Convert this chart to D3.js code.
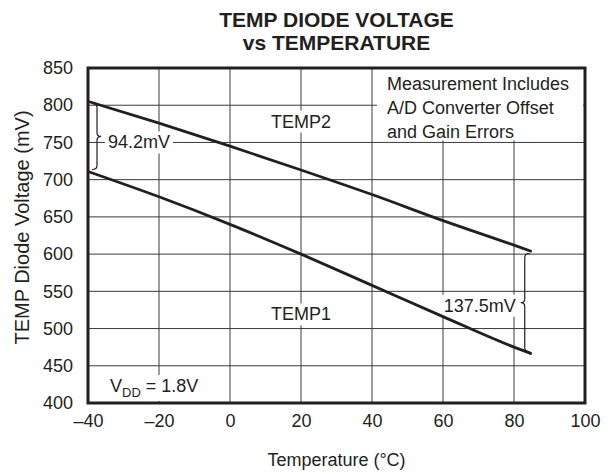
<!DOCTYPE html>
<html>
<head>
<meta charset="utf-8">
<script src="https://cdn.jsdelivr.net/npm/d3@7"></script>
<style>
  body { margin: 0; background: #fff; }
  text { font-family: "Liberation Sans", Arial, Helvetica, sans-serif; fill: #231f20; }
</style>
</head>
<body>
<div class="chart"></div>
<script>
// data
const temps = [-40, -20, 0, 20, 40, 60, 80, 85];
const temp1 = [711, 677, 640, 600, 558, 516, 475, 466];
const temp2 = [805.2, 776, 745, 713, 680, 645, 612, 603.5];
const xTicks = [-40, -20, 0, 20, 40, 60, 80, 100];
const yTicks = [400, 450, 500, 550, 600, 650, 700, 750, 800, 850];
const noteLines = ['Measurement Includes', 'A/D Converter Offset', 'and Gain Errors'];

const width = 613, height = 473;
const margin = {top: 68, right: 28, bottom: 70, left: 88};
const w = width - margin.left - margin.right;
const h = height - margin.top - margin.bottom;
const ink = '#231f20';

const svg = d3.select('.chart').append('svg')
  .attr('width', width).attr('height', height);

const x = d3.scaleLinear().domain([-40, 100]).range([0, w]);
const y = d3.scaleLinear().domain([400, 850]).range([h, 0]);

const g = svg.append('g').attr('transform', 'translate(' + margin.left + ',' + margin.top + ')');

// grid
g.append('g').selectAll('line').data(xTicks.slice(1, -1)).enter().append('line')
  .attr('x1', d => x(d)).attr('x2', d => x(d)).attr('y1', 0).attr('y2', h)
  .attr('stroke', '#3a3a3a').attr('stroke-width', 1);
g.append('g').selectAll('line').data(yTicks.slice(1, -1)).enter().append('line')
  .attr('y1', d => y(d)).attr('y2', d => y(d)).attr('x1', 0).attr('x2', w)
  .attr('stroke', '#3a3a3a').attr('stroke-width', 1);

// axes (labels only)
const fmt = d => d < 0 ? '\u2013' + Math.abs(d) : String(d);
const xAxis = g.append('g').attr('transform', 'translate(0,' + h + ')')
  .call(d3.axisBottom(x).tickValues(xTicks).tickSize(0).tickPadding(11).tickFormat(fmt));
const yAxis = g.append('g')
  .call(d3.axisLeft(y).tickValues(yTicks).tickSize(0).tickPadding(15));
[xAxis, yAxis].forEach(a => {
  a.select('.domain').remove();
  a.selectAll('text').attr('font-size', 18).attr('fill', ink)
    .style('font-family', '"Liberation Sans", Arial, sans-serif');
});

// helper: white box behind a text
function label(sel, pad) {
  const b = sel.node().getBBox();
  sel.node().parentNode.insertBefore(
    g.append('rect').attr('x', b.x - pad).attr('y', b.y - 1).attr('width', b.width + 2 * pad)
      .attr('height', b.height + 2).attr('fill', '#fff').node(), sel.node());
}

// notes box
const notes = g.append('g');
notes.append('rect').attr('x', x(60) - 66).attr('y', 0).attr('width', x(100) - x(60) + 64)
  .attr('height', y(750) - 2).attr('fill', '#fff');
notes.selectAll('text').data(noteLines).enter().append('text')
  .attr('x', x(60) - 56).attr('y', (d, i) => 22 + i * 24)
  .attr('font-size', 18).text(d => d);

const n = temps.length - 1;

// annotations
const a1 = g.append('text').attr('x', x(-40) + 20).attr('y', y(750) + 6)
  .attr('font-size', 18).text('94.2mV');
label(a1, 3);
const a2 = g.append('text').attr('x', x(85) - 16).attr('y', (y(temp2[n]) + y(temp1[n])) / 2 + 9)
  .attr('text-anchor', 'end').attr('font-size', 18).text('137.5mV');
label(a2, 3);
const t2 = g.append('text').attr('x', x(20)).attr('y', y(778) + 6)
  .attr('text-anchor', 'middle').attr('font-size', 18).text('TEMP2');
label(t2, 4);
const t1 = g.append('text').attr('x', x(20)).attr('y', y(519) + 6)
  .attr('text-anchor', 'middle').attr('font-size', 18).text('TEMP1');
label(t1, 4);
const vdd = g.append('text').attr('x', x(-40) + 22).attr('y', h - 11).attr('font-size', 18);
vdd.append('tspan').text('V');
vdd.append('tspan').attr('font-size', 13).attr('dy', 5).text('DD');
vdd.append('tspan').attr('dy', -5).text(' = 1.8V');
label(vdd, 4);

// curves (on top of label boxes)
const line = d3.line().x(d => x(d[0])).y(d => y(d[1])).curve(d3.curveMonotoneX);
[temp1, temp2].forEach(s => {
  g.append('path').datum(temps.map((t, i) => [t, s[i]]))
    .attr('d', line).attr('fill', 'none').attr('stroke', ink).attr('stroke-width', 2.8);
});

// braces
function brace(x0, y1, y2, dir) {
  const xs = x0 + dir * 5, xt = x0 + dir * 9, ym = (y1 + y2) / 2, r = 4;
  return 'M' + x0 + ',' + y1 + ' Q' + xs + ',' + y1 + ' ' + xs + ',' + (y1 + r) +
    ' L' + xs + ',' + (ym - r) + ' Q' + xs + ',' + ym + ' ' + xt + ',' + ym +
    ' Q' + xs + ',' + ym + ' ' + xs + ',' + (ym + r) +
    ' L' + xs + ',' + (y2 - r) + ' Q' + xs + ',' + y2 + ' ' + x0 + ',' + y2;
}
g.append('path').attr('d', brace(x(-40) + 4, y(temp2[0]) + 2, y(temp1[0]) - 2, 1))
  .attr('fill', 'none').attr('stroke', ink).attr('stroke-width', 1.2);
g.append('path').attr('d', brace(x(temps[n]) - 2, y(temp2[n]) + 2, y(temp1[n]) - 2, -1))
  .attr('fill', 'none').attr('stroke', ink).attr('stroke-width', 1.2);

// frame
g.append('rect').attr('width', w).attr('height', h)
  .attr('fill', 'none').attr('stroke', ink).attr('stroke-width', 3);

// titles
svg.append('text').attr('x', margin.left + w / 2).attr('y', 27)
  .attr('text-anchor', 'middle').attr('font-size', 21).attr('font-weight', 'bold')
  .text('TEMP DIODE VOLTAGE');
svg.append('text').attr('x', margin.left + w / 2).attr('y', 50)
  .attr('text-anchor', 'middle').attr('font-size', 21).attr('font-weight', 'bold')
  .text('vs TEMPERATURE');
svg.append('text').attr('x', margin.left + w / 2).attr('y', 466)
  .attr('text-anchor', 'middle').attr('font-size', 18).text('Temperature (\u00b0C)');
svg.append('text').attr('transform', 'translate(29,' + (margin.top + h / 2 - 8) + ') rotate(-90)')
  .attr('text-anchor', 'middle').attr('font-size', 20).text('TEMP Diode Voltage (mV)');
</script>
</body>
</html>
